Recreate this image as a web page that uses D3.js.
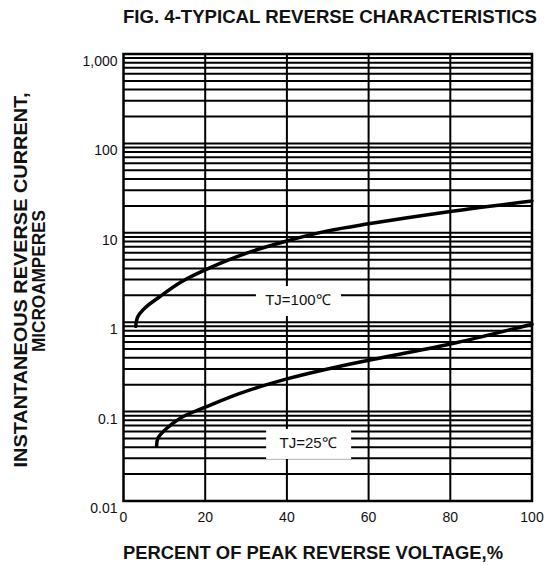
<!DOCTYPE html>
<head>
  <meta charset="utf-8">
  <style>
    body { margin: 0; background: #fff; }
    svg text { font-family: "Liberation Sans", Arial, sans-serif; fill: #111; }
    svg .grid { stroke: #000; stroke-width: 2px; }
    svg .curve { fill: none; stroke: #000; stroke-width: 3.5px; stroke-linecap: round; }
    svg .tick-label { font-size: 14px; }
    svg .title { font-size: 18px; font-weight: bold; }
    svg .tj { font-size: 15px; }
  </style>
</head>
<body>
<script src="https://d3js.org/d3.v7.min.js"></script>
<script>
  // axis ticks
  var xTicks = [0, 20, 40, 60, 80, 100];
  var yTicks = [0.01, 0.1, 1, 10, 100, 1000];
  var yTickLabels = ["0.01", "0.1", "1", "10", "100", "1,000"];

  // TJ = 100 C curve (percent of peak reverse voltage, microamperes)
  var percent100 = [3.0, 3.5, 5.3, 9.0, 14, 20, 30, 40, 50, 60, 80, 100];
  var current100 = [0.9, 1.15, 1.45, 1.95, 2.8, 3.85, 5.9, 8.1, 10.5, 12.6, 17.3, 22.7];

  // TJ = 25 C curve
  var percent25 = [8.1, 8.4, 10.6, 14.6, 20, 28.5, 40, 50, 60, 80, 100];
  var current25 = [0.041, 0.05, 0.065, 0.088, 0.112, 0.16, 0.232, 0.3, 0.375, 0.57, 0.95];

  // curve labels: text, x (%), y (uA)
  var labelText = ["TJ=100\u2103", "TJ=25\u2103"];
  var labelX = [42.7, 45.2];
  var labelY = [1.77, 0.0446];

  var W = 545, H = 565;
  var plot = { left: 123.5, right: 532, top: 54, bottom: 501 };

  var svg = d3.select("body").append("svg")
      .attr("width", W)
      .attr("height", H);

  var x = d3.scaleLinear().domain([0, 100]).range([plot.left, plot.right]);
  var y = d3.scaleLog().domain([0.01, 1000]).range([plot.bottom, plot.top]);

  // horizontal grid (1..9 per decade)
  svg.append("g").selectAll("line")
    .data(y.ticks())
    .enter().append("line")
      .classed("grid", true)
      .attr("x1", plot.left).attr("x2", plot.right)
      .attr("y1", function (d) { return y(d); })
      .attr("y2", function (d) { return y(d); });

  // vertical grid
  svg.append("g").selectAll("line")
    .data(xTicks.slice(1, -1))
    .enter().append("line")
      .classed("grid", true)
      .attr("y1", plot.top).attr("y2", plot.bottom)
      .attr("x1", function (d) { return x(d); })
      .attr("x2", function (d) { return x(d); });

  // frame
  svg.append("rect")
      .attr("x", plot.left).attr("y", plot.top)
      .attr("width", plot.right - plot.left)
      .attr("height", plot.bottom - plot.top)
      .style("fill", "none")
      .style("stroke", "#000")
      .style("stroke-width", "2.5px");

  // curves
  var line = d3.line()
    .x(function (d) { return x(d[0]); })
    .y(function (d) { return y(d[1]); })
    .curve(d3.curveCatmullRom.alpha(0.5));

  svg.append("path").classed("curve", true)
      .attr("d", line(d3.zip(percent100, current100)));
  svg.append("path").classed("curve", true)
      .attr("d", line(d3.zip(percent25, current25)));

  // curve labels on white boxes
  labelText.forEach(function (t, i) {
    var cx = x(labelX[i]), cy = y(labelY[i]);
    svg.append("rect")
        .attr("x", cx - 42).attr("y", cy - 14)
        .attr("width", 85).attr("height", 30)
        .style("fill", "#fff");
    svg.append("text").classed("tj", true)
        .attr("x", cx).attr("y", cy)
        .attr("dy", "0.35em")
        .style("text-anchor", "middle")
        .text(t);
  });

  // y tick labels
  svg.append("g").selectAll("text")
    .data(yTicks)
    .enter().append("text")
      .classed("tick-label", true)
      .attr("x", plot.left - 6)
      .attr("y", function (d) { return y(d) + 7; })
      .attr("dy", "0.35em")
      .style("text-anchor", "end")
      .text(function (d, i) { return yTickLabels[i]; });

  // x tick labels
  svg.append("g").selectAll("text")
    .data(xTicks)
    .enter().append("text")
      .classed("tick-label", true)
      .attr("x", function (d) { return x(d); })
      .attr("y", plot.bottom + 21)
      .style("text-anchor", "middle")
      .text(function (d) { return d; });

  // titles
  svg.append("text").classed("title", true)
      .attr("x", 330).attr("y", 23)
      .attr("textLength", 414)
      .attr("lengthAdjust", "spacingAndGlyphs")
      .style("text-anchor", "middle")
      .text("FIG. 4-TYPICAL REVERSE CHARACTERISTICS");

  svg.append("text").classed("title", true)
      .attr("x", 313).attr("y", 559)
      .attr("textLength", 380)
      .attr("lengthAdjust", "spacingAndGlyphs")
      .style("text-anchor", "middle")
      .text("PERCENT OF PEAK REVERSE VOLTAGE,%");

  svg.append("text").classed("title", true)
      .attr("transform", "translate(27,280) rotate(-90)")
      .attr("textLength", 375)
      .attr("lengthAdjust", "spacingAndGlyphs")
      .style("text-anchor", "middle")
      .text("INSTANTANEOUS REVERSE CURRENT,");

  svg.append("text").classed("title", true)
      .attr("transform", "translate(45,281) rotate(-90)")
      .attr("textLength", 142)
      .attr("lengthAdjust", "spacingAndGlyphs")
      .style("text-anchor", "middle")
      .text("MICROAMPERES");
</script>
</body>
</html>
